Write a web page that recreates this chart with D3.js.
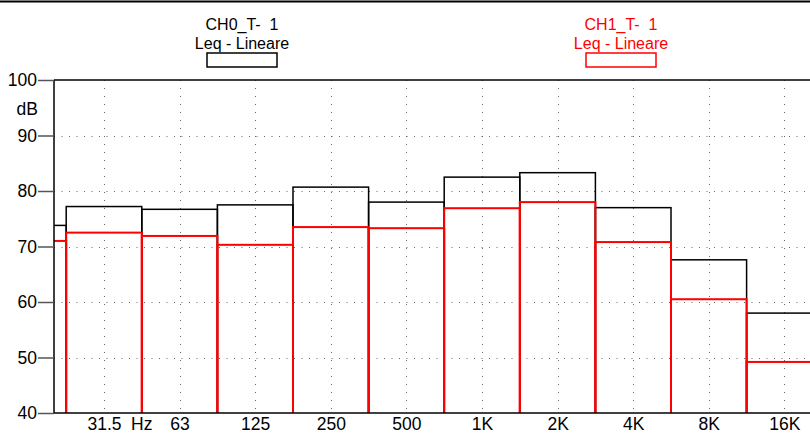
<!DOCTYPE html>
<html><head><meta charset="utf-8">
<script src="https://cdn.jsdelivr.net/npm/d3@7"></script>
<style>html,body{margin:0;padding:0;background:#fff;}svg{display:block;font-family:"Liberation Sans",Arial,sans-serif;}</style>
</head><body>
<svg id="c" width="810" height="439"></svg>
<script>
const bands = ["16","31.5","63","125","250","500","1K","2K","4K","8K","16K"];
const tickLabels = ["","31.5","63","125","250","500","1K","2K","4K","8K","16K"];
const ch0 = [73.8,77.2,76.7,77.5,80.7,78.0,82.5,83.3,77.0,67.6,58.0];
const ch1 = [71.0,72.5,71.9,70.3,73.5,73.3,76.9,78.0,70.8,60.5,49.2];
const yTicks = [40,50,60,70,80,90,100];
const legend = [{t1:"CH0_T-  1",t2:"Leq - Lineare",color:"#000",cx:242},{t1:"CH1_T-  1",t2:"Leq - Lineare",color:"#ff0000",cx:621}];

const svg = d3.select("#c");
const L=54, T=80, B=413, R=810;
const y = d3.scaleLinear().domain([40,100]).range([B,T]);
const x = d3.scaleLinear().domain([1,10]).range([104,784.4]);
const bw = x(2)-x(1);

// top rule
svg.append("line").attr("x1",0).attr("x2",810).attr("y1",1.5).attr("y2",1.5).attr("stroke","#000").attr("stroke-width",2);

svg.append("defs").append("clipPath").attr("id","clip").append("rect").attr("x",L).attr("y",T-2).attr("width",R-L+10).attr("height",B-T+2);

// grid
const g = svg.append("g").attr("clip-path","url(#clip)");
g.selectAll(".hg").data(yTicks.filter(v=>v>40&&v<100)).enter().append("line")
 .attr("x1",L).attr("x2",R).attr("y1",d=>Math.round(y(d))+0.5).attr("y2",d=>Math.round(y(d))+0.5)
 .attr("stroke","#666").attr("stroke-dasharray","1,6.5").attr("stroke-width",1);
g.selectAll(".vg").data(d3.range(1,11)).enter().append("line")
 .attr("x1",d=>Math.round(x(d))+0.5).attr("x2",d=>Math.round(x(d))+0.5).attr("y1",T).attr("y2",B)
 .attr("stroke","#666").attr("stroke-dasharray","1,7").attr("stroke-width",1);

// bars
function drawBars(vals,color,sw){
  g.selectAll(null).data(vals).enter().append("rect")
   .attr("x",(d,i)=>x(i)-bw/2).attr("y",d=>y(d)).attr("width",bw).attr("height",d=>B-y(d)+3)
   .attr("fill","none").attr("stroke",color).attr("stroke-width",sw);
}
drawBars(ch0,"#000",1.5);
drawBars(ch1,"#ff0000",2);

// axes frame
svg.append("line").attr("x1",L).attr("x2",R).attr("y1",T).attr("y2",T).attr("stroke","#000").attr("stroke-width",1.5);
svg.append("line").attr("x1",L).attr("x2",R).attr("y1",B).attr("y2",B).attr("stroke","#000").attr("stroke-width",1.5);
svg.append("line").attr("x1",L).attr("x2",L).attr("y1",T).attr("y2",B).attr("stroke","#000").attr("stroke-width",1.5);

// y axis
const ya = svg.append("g").attr("transform",`translate(${L},0)`)
 .call(d3.axisLeft(y).tickValues(yTicks).tickSize(16).tickPadding(1).tickFormat(d3.format("d")));
ya.select(".domain").remove();
ya.selectAll(".tick line").attr("stroke","#555").attr("stroke-width",1.5);
ya.selectAll(".tick text").attr("font-size",17.5).attr("fill","#000").attr("font-family","Liberation Sans, Arial, sans-serif");
svg.append("text").attr("x",38).attr("y",115).attr("text-anchor","end").attr("font-size",17.5).text("dB");

// x axis labels
const xa = svg.append("g").attr("transform",`translate(0,${B})`)
 .call(d3.axisBottom(x).tickValues(d3.range(1,11)).tickSize(0).tickPadding(4.5).tickFormat(d=>tickLabels[d]));
xa.select(".domain").remove();
xa.selectAll(".tick text").attr("font-size",17.5).attr("fill","#000").attr("font-family","Liberation Sans, Arial, sans-serif");
svg.append("text").attr("x",131).attr("y",430).attr("font-size",17.5).text("Hz");

// legends
legend.forEach(l=>{
  const lg = svg.append("g").attr("fill",l.color);
  lg.append("text").attr("x",l.cx).attr("y",30).attr("text-anchor","middle").attr("font-size",16).attr("xml:space","preserve").style("white-space","pre").text(l.t1);
  lg.append("text").attr("x",l.cx).attr("y",49).attr("text-anchor","middle").attr("font-size",16).text(l.t2);
  lg.append("rect").attr("x",l.cx-35).attr("y",53).attr("width",70).attr("height",14).attr("fill","none").attr("stroke",l.color).attr("stroke-width",1.5);
});
</script>
</body></html>
